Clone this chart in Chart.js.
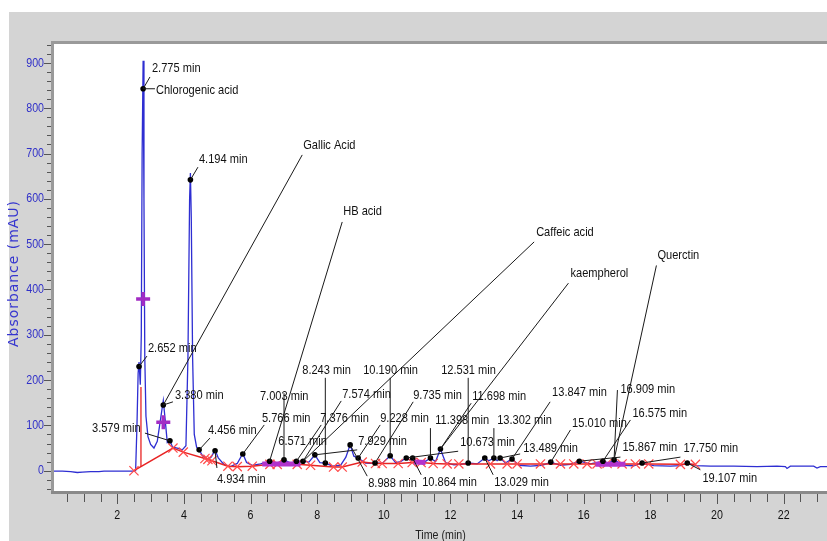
<!DOCTYPE html>
<html>
<head>
<meta charset="utf-8">
<script src="https://cdn.jsdelivr.net/npm/chart.js@4/dist/chart.umd.min.js"></script>
<style>
  html, body { margin: 0; padding: 0; background: #fff; }
  canvas { display: block; }
</style>
</head>
<body>
<canvas id="chart" width="827" height="541"></canvas>
<script>
// HPLC chromatogram: absorbance vs retention time, with integration baseline and peak labels.

const traceTime = [0.07, 0.35, 0.6, 0.8, 0.95, 1.2, 1.45, 1.6, 1.9, 2.2, 2.45, 2.55, 2.59, 2.625, 2.652, 2.69,
  2.72, 2.745, 2.775, 2.8, 2.825, 2.86, 2.92, 3.0, 3.1, 3.2, 3.3, 3.38, 3.44, 3.5, 3.579, 3.66, 3.8, 3.95,
  4.06, 4.12, 4.17, 4.194, 4.22, 4.26, 4.31, 4.38, 4.456, 4.55, 4.7, 4.82, 4.934, 5.03, 5.2, 5.4, 5.6, 5.766,
  5.88, 6.05, 6.3, 6.571, 6.8, 7.003, 7.2, 7.376, 7.574, 7.75, 7.929, 8.08, 8.243, 8.45, 8.7, 8.86, 8.988,
  9.1, 9.228, 9.45, 9.6, 9.735, 9.95, 10.19, 10.35, 10.5, 10.673, 10.76, 10.864, 11.0, 11.2, 11.398, 11.55,
  11.698, 11.85, 12.1, 12.3, 12.531, 12.8, 13.029, 13.15, 13.302, 13.4, 13.489, 13.65, 13.847, 14.05, 14.4,
  14.75, 15.01, 15.3, 15.6, 15.867, 16.2, 16.575, 16.75, 16.909, 17.2, 17.5, 17.75, 18.1, 18.6, 18.9, 19.107,
  19.35, 19.8, 20.5, 21.2, 21.8, 22.05, 22.1, 22.2, 22.9, 23.0, 23.1, 23.35];
const traceAbs = [-1, -1, -2, -4, -3, -2, -2, -1, -1, -1, -1, 0, 100, 215, 240, 190,
  300, 700, 905, 600, 250, 120, 75, 58, 50, 65, 115, 155, 110, 62, 66, 52, 50, 46,
  55, 250, 600, 657, 560, 250, 80, 52, 46, 34, 25, 30, 46, 28, 14, 9, 16, 38,
  18, 12, 15, 21, 17, 24, 17, 21, 21, 19, 35, 18, 17, 10, 12, 30, 57,
  32, 28, 17, 16, 17, 16, 33, 18, 20, 28, 24, 28, 20, 18, 28, 20,
  48, 18, 13, 14, 17, 15, 28, 22, 28, 22, 28, 17, 26, 12, 10,
  12, 19, 12, 14, 21, 15, 21, 17, 24, 12, 11, 17, 11, 10, 11, 17,
  11, 10, 10, 9, 10, 9, 5, 10, 10, 6, 9, 9];

// integration baseline (red line with X marks)
const baseTime = [2.5, 3.67, 3.98, 4.63, 4.72, 4.84, 5.32, 5.6, 6.05, 6.58, 6.8, 7.4, 7.8, 8.49, 8.75, 9.35,
  9.75, 9.95, 10.43, 10.85, 11.12, 11.48, 11.9, 12.25, 13.2, 13.7, 14.0, 14.7, 15.3, 15.7, 16.1, 16.4, 16.7,
  17.15, 17.55, 17.95, 18.9, 19.35];
const baseAbs = [0, 50, 41, 27, 25, 22, 10, 9, 10, 14, 14, 14, 12, 8, 8, 19,
  16, 16, 16, 18, 18, 16, 15, 15, 15, 15, 15, 15, 15, 15, 15, 15, 16,
  15, 15, 15, 14, 14];
const dropTime = [2.71, 2.71];
const dropAbs = [8, 185];

// purple baseline segments and "+" marks
const purpleTime = [6.35, 7.5, null, 10.9, 11.25, null, 16.35, 17.25];
const purpleAbs = [15, 15, null, 19, 18, null, 14, 14];
const plusTime = [2.775, 3.38];
const plusAbs = [379, 107];

// detected peaks (dots)
const peakRT = [2.652, 2.775, 3.380, 3.579, 4.194, 4.456, 4.934, 5.766, 6.571, 7.003, 7.376, 7.574, 7.929,
  8.243, 8.988, 9.228, 9.735, 10.190, 10.673, 10.864, 11.398, 11.698, 12.531, 13.029, 13.302, 13.489, 13.847,
  15.010, 15.867, 16.575, 16.909, 17.750, 19.107];
const peakHeight = [230, 843, 145, 66, 642, 46, 44, 37, 21, 24, 21, 21, 35,
  17, 57, 28, 17, 33, 28, 28, 28, 48, 17, 28, 28, 28, 26,
  19, 21, 21, 24, 17, 17];

// [text, peak RT, text time, text abs, leader end time, leader end abs]
const LABELS = [
  ["2.775 min", 2.775, 3.04, 889, 2.98, 869],
  ["Chlorogenic acid", 2.775, 3.16, 840, 3.13, 843],
  ["4.194 min", 4.194, 4.45, 688, 4.42, 670],
  ["Gallic Acid", 3.380, 7.58, 719, 7.55, 697],
  ["HB acid", 6.571, 8.78, 573, 8.75, 549],
  ["Caffeic acid", 7.574, 14.57, 527, 14.51, 505],
  ["kaempherol", 11.698, 15.6, 436, 15.54, 414],
  ["Querctin", 16.909, 18.21, 476, 18.18, 453],
  ["2.652 min", 2.652, 2.92, 271, 2.89, 253],
  ["3.380 min", 3.380, 3.73, 167, 3.67, 152],
  ["3.579 min", 3.579, 1.24, 94, 2.83, 83],
  ["4.456 min", 4.456, 4.72, 90, 4.78, 72],
  ["4.934 min", 4.934, 4.99, -20, 4.99, 6],
  ["5.766 min", 5.766, 6.34, 116, 6.41, 101],
  ["6.571 min", 6.571, 6.83, 66, null, null],
  ["7.003 min", 7.003, 6.28, 165, 7.003, 171],
  ["7.376 min", 7.376, 8.09, 116, 8.12, 101],
  ["7.574 min", 7.574, 8.75, 169, 8.72, 154],
  ["7.929 min", 7.929, 9.23, 66, 9.2, 46],
  ["8.243 min", 8.243, 7.55, 222, 8.243, 205],
  ["8.988 min", 8.988, 9.53, -27, 9.5, -12],
  ["9.228 min", 9.228, 9.89, 116, 9.89, 101],
  ["9.735 min", 9.735, 10.88, 167, 10.88, 152],
  ["10.190 min", 10.190, 9.38, 222, 10.19, 205],
  ["10.673 min", 10.673, 12.29, 63, 12.23, 43],
  ["10.864 min", 10.864, 11.15, -25, 11.12, -9],
  ["11.398 min", 11.398, 11.54, 112, 11.398, 94],
  ["11.698 min", 11.698, 12.65, 165, 12.62, 149],
  ["12.531 min", 12.531, 11.72, 222, 12.531, 205],
  ["13.029 min", 13.029, 13.31, -25, 13.28, -9],
  ["13.302 min", 13.302, 13.40, 112, 13.302, 94],
  ["13.489 min", 13.489, 14.18, 50, 14.09, 37],
  ["13.847 min", 13.847, 15.05, 172, 14.99, 152],
  ["15.010 min", 15.010, 15.65, 105, 15.6, 90],
  ["15.867 min", 15.867, 17.16, 52, 17.1, 30],
  ["16.575 min", 16.575, 17.46, 127, 17.4, 112],
  ["16.909 min", 16.909, 17.10, 180, 17.01, 178],
  ["17.750 min", 17.750, 18.99, 50, 18.9, 30],
  ["19.107 min", 19.107, 19.56, -16, 19.5, 2],
];

const xLabels = [2, 4, 6, 8, 10, 12, 14, 16, 18, 20, 22];
const yLabels = [0, 100, 200, 300, 400, 500, 600, 700, 800, 900];

const pts = (xs, ys) => xs.map((x, i) => (x === null ? { x: NaN, y: NaN } : { x, y: ys[i] }));

// condensed text: use a narrow face if installed, else squeeze the regular one
let squeeze = null;
function narrowText(ctx, text, x, y, size) {
  if (squeeze === null) {
    ctx.font = `13px "Liberation Sans Narrow", monospace`;
    const a = ctx.measureText("2.775 min").width;
    ctx.font = `13px monospace`;
    const b = ctx.measureText("2.775 min").width;
    squeeze = Math.abs(a - b) < 0.5;
  }
  ctx.save();
  if (squeeze) {
    ctx.font = `${size}px "Liberation Sans", Arial, sans-serif`;
    ctx.translate(x, y);
    ctx.scale(0.82, 1);
    ctx.fillText(text, 0, 0);
  } else {
    ctx.font = `${size}px "Liberation Sans Narrow", "Arial Narrow", sans-serif`;
    ctx.fillText(text, x, y);
  }
  ctx.restore();
}

const frame = {
  id: "frame",
  beforeDraw(chart) {
    const { ctx, chartArea: a } = chart;
    ctx.save();
    ctx.fillStyle = "#fff";
    ctx.fillRect(0, 0, chart.width, chart.height);
    ctx.fillStyle = "#d4d4d4";
    ctx.fillRect(9, 12, chart.width - 9, chart.height - 12);
    ctx.fillStyle = "#fff";
    ctx.fillRect(a.left, a.top, a.right - a.left, a.bottom - a.top);
    ctx.restore();
  },
  afterDatasetsDraw(chart) {
    const { ctx, chartArea: a, scales } = chart;
    const xs = scales.x, ys = scales.y;
    ctx.save();

    // leader lines
    ctx.strokeStyle = "#1a1a1a";
    ctx.lineWidth = 1;
    for (const [, rt, , , et, ev] of LABELS) {
      if (et === null) continue;
      const i = peakRT.indexOf(rt);
      ctx.beginPath();
      ctx.moveTo(xs.getPixelForValue(rt), ys.getPixelForValue(peakHeight[i]));
      ctx.lineTo(xs.getPixelForValue(et), ys.getPixelForValue(ev));
      ctx.stroke();
    }
    // label texts
    ctx.fillStyle = "#111";
    ctx.textBaseline = "middle";
    ctx.textAlign = "left";
    for (const [text, , tt, tv] of LABELS) {
      narrowText(ctx, text, xs.getPixelForValue(tt), ys.getPixelForValue(tv), 13.5);
    }

    // plot frame
    ctx.fillStyle = "#9a9a9a";
    ctx.fillRect(a.left - 2, a.top - 2, a.right - a.left + 2, 3);
    ctx.fillRect(a.left - 2, a.top - 2, 3, a.bottom - a.top + 4);
    ctx.fillStyle = "#8a8a8a";
    ctx.fillRect(a.left - 2, a.bottom - 1, a.right - a.left + 2, 3);

    // tick marks
    ctx.strokeStyle = "#555";
    ctx.lineWidth = 1;
    ctx.beginPath();
    for (let t = 0.5; t <= xs.max; t += 0.5) {
      const px = Math.round(xs.getPixelForValue(t)) + 0.5;
      const major = t % 2 === 0;
      ctx.moveTo(px, a.bottom + 2);
      ctx.lineTo(px, a.bottom + (major ? 12 : 10));
    }
    for (let v = -40; v <= ys.max; v += 20) {
      const py = Math.round(ys.getPixelForValue(v)) + 0.5;
      const major = v % 100 === 0;
      ctx.moveTo(a.left - (major ? 9 : 6), py);
      ctx.lineTo(a.left - 2, py);
    }
    ctx.stroke();

    // tick labels
    ctx.textAlign = "center";
    ctx.fillStyle = "#111";
    for (const v of xLabels) narrowText(ctx, String(v), xs.getPixelForValue(v), a.bottom + 23, 13);
    ctx.textAlign = "right";
    ctx.fillStyle = "#3030c8";
    for (const v of yLabels) narrowText(ctx, String(v), a.left - 9, ys.getPixelForValue(v), 13);

    // axis titles
    ctx.textAlign = "center";
    ctx.fillStyle = "#222";
    narrowText(ctx, "Time (min)", xs.getPixelForValue(11.7), 535, 13);

    const yTitle = "Absorbance (mAU)";
    ctx.save();
    ctx.translate(14, 274);
    ctx.rotate(-Math.PI / 2);
    ctx.textAlign = "left";
    ctx.font = `14px "DejaVu Sans", Verdana, sans-serif`;
    ctx.fillStyle = "#3535cf";
    const w = ctx.measureText(yTitle).width;
    const gap = (146 - w) / (yTitle.length - 1);
    let cx = -73;
    for (const ch of yTitle) {
      ctx.fillText(ch, cx, 0);
      cx += ctx.measureText(ch).width + gap;
    }
    ctx.restore();

    ctx.restore();
  },
};

new Chart(document.getElementById("chart"), {
  type: "line",
  data: {
    datasets: [
      {
        data: pts(peakRT, peakHeight), showLine: false, order: 0,
        pointRadius: 2.8, pointBackgroundColor: "#000", pointBorderColor: "#000", pointBorderWidth: 0,
      },
      {
        data: pts(plusTime, plusAbs), showLine: false, order: 1,
        pointStyle: "cross", pointRadius: 7, pointBorderColor: "#a22cc4", pointBorderWidth: 3.5,
      },
      {
        data: pts(purpleTime, purpleAbs), order: 2, spanGaps: false,
        borderColor: "#b233cc", borderWidth: 5, pointRadius: 0,
      },
      {
        data: pts(baseTime, baseAbs), order: 3,
        borderColor: "#e82424", borderWidth: 1.5,
        pointStyle: "crossRot", pointRadius: 6.5, pointBorderColor: "#ff4a4a", pointBorderWidth: 1.2,
      },
      {
        data: pts(dropTime, dropAbs), order: 3,
        borderColor: "#e82424", borderWidth: 1.3, pointRadius: 0,
      },
      {
        data: pts(traceTime, traceAbs), order: 5,
        borderColor: "#2e2ed2", borderWidth: 1.3, pointRadius: 0,
      },
    ],
  },
  options: {
    responsive: false,
    animation: false,
    devicePixelRatio: 1,
    events: [],
    layout: { autoPadding: false, padding: { top: 43, right: 0, bottom: 0, left: 0 } },
    plugins: { legend: { display: false }, tooltip: { enabled: false } },
    elements: { line: { tension: 0 } },
    scales: {
      x: {
        type: "linear", min: 0.07, max: 23.3,
        grid: { display: false, drawTicks: false }, border: { display: false },
        ticks: { display: false },
        afterBuildTicks: (s) => { s.ticks = xLabels.map((v) => ({ value: v })); },
        afterFit: (s) => { s.height = 49; s.paddingLeft = 0; s.paddingRight = 0; },
      },
      y: {
        type: "linear", min: -47, max: 944,
        grid: { display: false, drawTicks: false }, border: { display: false },
        ticks: { display: false },
        afterBuildTicks: (s) => { s.ticks = yLabels.map((v) => ({ value: v })); },
        afterFit: (s) => { s.width = 53; s.paddingTop = 0; s.paddingBottom = 0; },
      },
    },
  },
  plugins: [frame],
});
</script>
</body>
</html>
